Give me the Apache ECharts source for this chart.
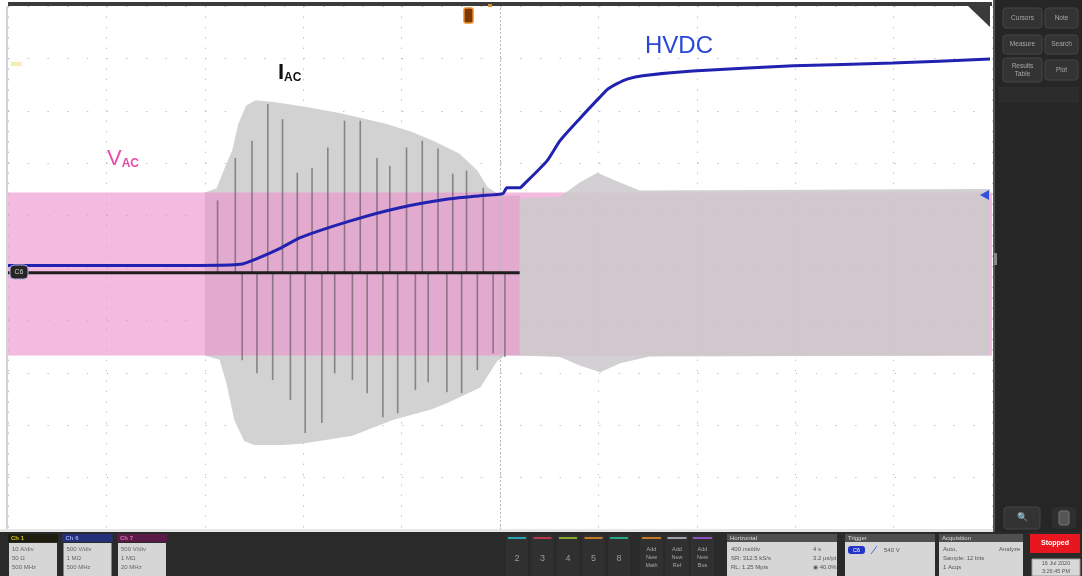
<!DOCTYPE html>
<html>
<head>
<meta charset="utf-8">
<script src="https://cdn.jsdelivr.net/npm/echarts@6/dist/echarts.min.js"></script>
<style>
html,body{margin:0;padding:0;background:#fff;}
#chart{width:1082px;height:576px;}
</style>
</head>
<body>
<div id="chart"></div>
<script>
// ---- Data (x in horizontal divisions 0..10, y in vertical divisions -5..5) ----
// V_AC envelope (dense sine drawn as band)
const vacUpper = [[0, 1.44], [10, 1.44]];
const vacLower = [[0, -1.67], [10, -1.67]];

// I_AC envelope, inrush section (before trigger)
const iacUpper1 = [[2.0, 1.44], [2.12, 1.52], [2.2, 1.9], [2.28, 2.25], [2.34, 2.75], [2.42, 3.1], [2.52, 3.2], [2.7, 3.17], [3.0, 3.08], [3.37, 2.96], [3.85, 2.75], [4.1, 2.6], [4.32, 2.43], [4.59, 2.18], [4.77, 1.86], [4.87, 1.55], [4.97, 1.42], [5.05, 1.38], [5.2, 1.38]];
const iacLower1 = [[2.0, -1.67], [2.15, -1.75], [2.22, -2.2], [2.3, -2.9], [2.4, -3.3], [2.5, -3.38], [2.8, -3.38], [3.0, -3.35], [3.5, -3.2], [3.91, -2.9], [4.3, -2.7], [4.46, -2.58], [4.8, -2.28], [4.97, -1.78], [5.05, -1.67], [5.2, -1.67]];

// I_AC envelope, PFC running section (after trigger)
const iacUpper2 = [[5.2, 1.32], [5.61, 1.36], [5.81, 1.63], [5.99, 1.82], [6.17, 1.67], [6.42, 1.48], [9.98, 1.51]];
const iacLower2 = [[5.2, -1.67], [5.61, -1.7], [5.81, -1.86], [6.02, -1.99], [6.22, -1.82], [6.52, -1.69], [9.98, -1.67]];

// I_AC dark current peaks: [x, tip]
const iacPeaksUp = [[2.13, 1.29], [2.31, 2.10], [2.48, 2.43], [2.64, 3.13], [2.79, 2.84], [2.94, 1.82], [3.09, 1.91], [3.25, 2.30], [3.42, 2.81], [3.58, 2.81], [3.75, 2.10], [3.88, 1.95], [4.05, 2.30], [4.21, 2.43], [4.37, 2.28], [4.52, 1.80], [4.66, 1.86], [4.83, 1.53]];
const iacPeaksDown = [[2.38, -1.76], [2.53, -2.01], [2.69, -2.14], [2.87, -2.52], [3.02, -3.15], [3.19, -2.96], [3.32, -2.01], [3.50, -2.14], [3.65, -2.39], [3.81, -2.85], [3.96, -2.77], [4.14, -2.33], [4.27, -2.18], [4.46, -2.37], [4.61, -2.39], [4.77, -1.95], [4.93, -1.63], [5.05, -1.70]];

// HVDC bus voltage
const hvdc = [[0, 0.05], [1.95, 0.05], [2.36, 0.07], [2.53, 0.18], [2.76, 0.37], [2.97, 0.58], [3.48, 0.90], [3.98, 1.15], [4.49, 1.32], [4.80, 1.38], [5.03, 1.42], [5.07, 1.53], [5.20, 1.53], [5.25, 1.61], [5.48, 2.05], [5.61, 2.43], [5.81, 2.85], [6.02, 3.27], [6.10, 3.42], [6.19, 3.52], [6.30, 3.61], [6.45, 3.67], [6.96, 3.76], [7.98, 3.86], [8.99, 3.91], [9.98, 3.99]];

// Black reference trace
const blackTrace = [[0, -0.09], [5.2, -0.09]];

const channelBoxes = [
  {name: 'Ch 1', lines: ['10 A/div', '50 Ω', '500 MHz']},
  {name: 'Ch 6', lines: ['500 V/div', '1 MΩ', '500 MHz']},
  {name: 'Ch 7', lines: ['500 V/div', '1 MΩ', '20 MHz']}
];
const chanButtons = ['2', '3', '4', '5', '8'];
const addButtons = ['Math', 'Ref', 'Bus'];

// ---- Rendering ----
const chart = echarts.init(document.getElementById('chart'), null, {renderer: 'canvas'});

function bandSeries(upper, lower, fill, z) {
  return {
    type: 'custom', z: z, silent: true, clip: true,
    data: [[upper[0][0], upper[0][1]]],
    renderItem: function (params, api) {
      const pts = upper.map(p => api.coord(p)).concat(lower.slice().reverse().map(p => api.coord(p)));
      return {type: 'polygon', shape: {points: pts}, style: {fill: fill}};
    }
  };
}
function peakSeries(peaks, base, color, z) {
  return {
    type: 'custom', z: z, silent: true, clip: true,
    data: peaks.map(p => [p[0], base, p[1]]),
    encode: {x: 0, y: [1, 2]},
    renderItem: function (params, api) {
      const a = api.coord([api.value(0), api.value(1)]);
      const b = api.coord([api.value(0), api.value(2)]);
      return {type: 'line', shape: {x1: a[0], y1: a[1], x2: b[0], y2: b[1]}, style: {stroke: color, lineWidth: 1.6}};
    }
  };
}

const font = 'Liberation Sans, Arial, sans-serif';
const graphics = [];
// plot frame bits
graphics.push({type: 'rect', shape: {x: 8, y: 2, width: 984, height: 4}, style: {fill: '#3c3c3c'}, z: 10});
graphics.push({type: 'rect', shape: {x: 6, y: 6, width: 2, height: 524}, style: {fill: '#d4d4d4'}, z: 10});
graphics.push({type: 'rect', shape: {x: 0, y: 529, width: 993, height: 3}, style: {fill: '#e6e6e6'}, z: 10});
// top right corner triangle
graphics.push({type: 'polygon', shape: {points: [[968, 6], [990, 6], [990, 27]]}, style: {fill: '#3a3a3a'}, z: 10});
// trigger position marker
graphics.push({type: 'rect', shape: {x: 464, y: 8, width: 9, height: 15, r: 2}, style: {fill: '#7a3a08', stroke: '#f08a20', lineWidth: 1.5}, z: 10});
graphics.push({type: 'rect', shape: {x: 488, y: 4, width: 4, height: 3}, style: {fill: '#e09030'}, z: 10});
// channel markers
graphics.push({type: 'rect', shape: {x: 11, y: 62, width: 11, height: 4}, style: {fill: '#f6eeb0'}, z: 10});
graphics.push({type: 'rect', shape: {x: 10, y: 265, width: 18, height: 14, r: 4}, style: {fill: '#262626', stroke: '#b0b0e0', lineWidth: 1}, z: 12});
graphics.push({type: 'text', style: {x: 19, y: 272, text: 'C6', fill: '#ccc', font: '7px ' + font, align: 'center', verticalAlign: 'middle'}, z: 13});
graphics.push({type: 'polygon', shape: {points: [[980, 195], [989, 190], [989, 200]]}, style: {fill: '#3050e0'}, z: 10});
// labels
graphics.push({type: 'text', style: {x: 645, y: 58, text: 'HVDC', fill: '#2a46d6', font: '24px ' + font, verticalAlign: 'bottom'}, z: 20});
graphics.push({type: 'text', style: {x: 278, y: 84, text: '{a|I}{b|AC}', fill: '#111', verticalAlign: 'bottom',
  rich: {a: {font: 'bold 22px ' + font, fill: '#111', verticalAlign: 'bottom'}, b: {font: 'bold 12px ' + font, fill: '#111', verticalAlign: 'bottom', padding: [0, 0, 0, 0]}}}, z: 20});
graphics.push({type: 'text', style: {x: 107, y: 170, text: '{a|V}{b|AC}', fill: '#e64ca8', verticalAlign: 'bottom',
  rich: {a: {font: '22px ' + font, fill: '#e64ca8', verticalAlign: 'bottom'}, b: {font: 'bold 12px ' + font, fill: '#e64ca8', verticalAlign: 'bottom'}}}, z: 20});

// right side panel
graphics.push({type: 'rect', shape: {x: 993, y: 0, width: 89, height: 576}, style: {fill: '#262626'}, z: 10});
graphics.push({type: 'rect', shape: {x: 993, y: 0, width: 2, height: 532}, style: {fill: '#555'}, z: 11});
graphics.push({type: 'rect', shape: {x: 994, y: 253, width: 3, height: 12}, style: {fill: '#888'}, z: 11});
const sideBtns = [
  {x: 1003, y: 8, w: 39, h: 20, t: 'Cursors'}, {x: 1045, y: 8, w: 33, h: 20, t: 'Note'},
  {x: 1003, y: 35, w: 39, h: 19, t: 'Measure'}, {x: 1045, y: 35, w: 33, h: 19, t: 'Search'},
  {x: 1003, y: 58, w: 39, h: 24, t: 'Results\nTable'}, {x: 1045, y: 60, w: 33, h: 20, t: 'Plot'}
];
sideBtns.forEach(b => {
  graphics.push({type: 'rect', shape: {x: b.x, y: b.y, width: b.w, height: b.h, r: 3}, style: {fill: '#333', stroke: '#444'}, z: 11});
  graphics.push({type: 'text', style: {x: b.x + b.w / 2, y: b.y + b.h / 2, text: b.t, fill: '#a8a8a8', font: '6.5px ' + font, align: 'center', verticalAlign: 'middle', lineHeight: 8}, z: 12});
});
graphics.push({type: 'rect', shape: {x: 999, y: 87, width: 80, height: 16}, style: {fill: '#2c2c2c'}, z: 11});
graphics.push({type: 'rect', shape: {x: 1004, y: 507, width: 36, height: 22, r: 3}, style: {fill: '#333', stroke: '#444'}, z: 11});
graphics.push({type: 'text', style: {x: 1022, y: 518, text: '🔍', fill: '#999', font: '9px ' + font, align: 'center', verticalAlign: 'middle'}, z: 12});
graphics.push({type: 'rect', shape: {x: 1052, y: 507, width: 24, height: 22, r: 3}, style: {fill: '#2e2e2e'}, z: 11});
graphics.push({type: 'rect', shape: {x: 1059, y: 511, width: 10, height: 14, r: 2}, style: {fill: '#555', stroke: '#777'}, z: 12});

// bottom bar
graphics.push({type: 'rect', shape: {x: 0, y: 532, width: 1082, height: 44}, style: {fill: '#2a2a2a'}, z: 10});
const chColors = [{bg: '#1e1e10', fg: '#d8c030'}, {bg: '#26307a', fg: '#9aa8f0'}, {bg: '#5a1a48', fg: '#e070b8'}];
channelBoxes.forEach((c, i) => {
  const x = 8 + i * 54.5;
  graphics.push({type: 'rect', shape: {x: x, y: 534, width: 50, height: 8}, style: {fill: chColors[i].bg}, z: 11});
  graphics.push({type: 'text', style: {x: x + 3, y: 538, text: c.name, fill: chColors[i].fg, font: 'bold 6px ' + font, verticalAlign: 'middle'}, z: 12});
  graphics.push({type: 'rect', shape: {x: x + 1, y: 543, width: 48, height: 33}, style: {fill: '#d6d6d6'}, z: 11});
  c.lines.forEach((l, j) => {
    graphics.push({type: 'text', style: {x: x + 4, y: 549 + j * 9, text: l, fill: '#666', font: '6px ' + font, verticalAlign: 'middle'}, z: 12});
  });
});
const btnColors = ['#2aa0b0', '#b83a4a', '#84a832', '#c07a28', '#24a884'];
chanButtons.forEach((t, i) => {
  const x = 506 + i * 25.5;
  graphics.push({type: 'rect', shape: {x: x, y: 535, width: 22, height: 41}, style: {fill: '#303030'}, z: 11});
  graphics.push({type: 'rect', shape: {x: x + 2, y: 537, width: 18, height: 2}, style: {fill: btnColors[i]}, z: 12});
  graphics.push({type: 'text', style: {x: x + 11, y: 559, text: t, fill: '#9a9a9a', font: '9px ' + font, align: 'center', verticalAlign: 'middle'}, z: 12});
});
const addColors = ['#c07a28', '#a0a0a8', '#9050c0'];
addButtons.forEach((t, i) => {
  const x = 640 + i * 25.5;
  graphics.push({type: 'rect', shape: {x: x, y: 535, width: 23, height: 41}, style: {fill: '#303030'}, z: 11});
  graphics.push({type: 'rect', shape: {x: x + 2, y: 537, width: 19, height: 2}, style: {fill: addColors[i]}, z: 12});
  ['Add', 'New', t].forEach((w, j) => {
    graphics.push({type: 'text', style: {x: x + 11.5, y: 549 + j * 8, text: w, fill: '#a8a8a8', font: '5.5px ' + font, align: 'center', verticalAlign: 'middle'}, z: 12});
  });
});
function infoBox(x, w, title, rows) {
  graphics.push({type: 'rect', shape: {x: x, y: 534, width: w, height: 8}, style: {fill: '#505050'}, z: 11});
  graphics.push({type: 'text', style: {x: x + 3, y: 538, text: title, fill: '#ddd', font: '6px ' + font, verticalAlign: 'middle'}, z: 12});
  graphics.push({type: 'rect', shape: {x: x, y: 542, width: w, height: 34}, style: {fill: '#d6d6d6'}, z: 11});
  rows.forEach((r, j) => {
    graphics.push({type: 'text', style: {x: x + 4, y: 549 + j * 9, text: r[0], fill: '#555', font: '6px ' + font, verticalAlign: 'middle'}, z: 12});
    if (r[1]) graphics.push({type: 'text', style: {x: x + w - 24, y: 549 + j * 9, text: r[1], fill: '#555', font: '6px ' + font, verticalAlign: 'middle'}, z: 12});
  });
}
infoBox(727, 110, 'Horizontal', [['400 ms/div', '4 s'], ['SR: 312.5 kS/s', '3.2 µs/pt'], ['RL: 1.25 Mpts', '◉ 40.0%']]);
infoBox(845, 90, 'Trigger', []);
graphics.push({type: 'rect', shape: {x: 848, y: 546, width: 17, height: 8, r: 3}, style: {fill: '#2434c8'}, z: 12});
graphics.push({type: 'text', style: {x: 856.5, y: 550, text: 'C6', fill: '#fff', font: '5.5px ' + font, align: 'center', verticalAlign: 'middle'}, z: 13});
graphics.push({type: 'line', shape: {x1: 871, y1: 554, x2: 877, y2: 546}, style: {stroke: '#5a6ad0', lineWidth: 1}, z: 12});
graphics.push({type: 'text', style: {x: 884, y: 550, text: '540 V', fill: '#555', font: '6px ' + font, verticalAlign: 'middle'}, z: 12});
infoBox(939, 84, 'Acquisition', [['Auto,', 'Analyze'], ['Sample: 12 bits', ''], ['1 Acqs', '']]);
graphics.push({type: 'rect', shape: {x: 1030, y: 534, width: 50, height: 19}, style: {fill: '#e8161e'}, z: 11});
graphics.push({type: 'text', style: {x: 1055, y: 543.5, text: 'Stopped', fill: '#fff', font: 'bold 7px ' + font, align: 'center', verticalAlign: 'middle'}, z: 12});
graphics.push({type: 'rect', shape: {x: 1032, y: 559, width: 48, height: 17}, style: {fill: '#d8d8d8', stroke: '#999'}, z: 11});
graphics.push({type: 'text', style: {x: 1056, y: 563.5, text: '16 Jul 2020', fill: '#555', font: '5.5px ' + font, align: 'center', verticalAlign: 'middle'}, z: 12});
graphics.push({type: 'text', style: {x: 1056, y: 571, text: '3:26:45 PM', fill: '#555', font: '5.5px ' + font, align: 'center', verticalAlign: 'middle'}, z: 12});

const option = {
  animation: false,
  backgroundColor: '#ffffff',
  grid: {left: 8, right: 90, top: 6, bottom: 46, containLabel: false},
  xAxis: {
    type: 'value', min: 0, max: 10, interval: 1,
    axisLine: {show: false}, axisTick: {show: false}, axisLabel: {show: false},
    splitLine: {show: true, lineStyle: {color: '#c4c4c4', width: 1, type: [1.5, 8.9]}}
  },
  yAxis: {
    type: 'value', min: -5, max: 5, interval: 1,
    axisLine: {show: false}, axisTick: {show: false}, axisLabel: {show: false},
    splitLine: {show: true, lineStyle: {color: '#c4c4c4', width: 1, type: [1.5, 18.2]}}
  },
  graphic: {elements: graphics},
  series: [
    bandSeries(iacUpper1, iacLower1, '#d2d2d2', 1),
    bandSeries(vacUpper, vacLower, 'rgba(234,146,204,0.62)', 2),
    bandSeries(iacUpper2, iacLower2, 'rgba(204,202,204,0.88)', 3),
    peakSeries(iacPeaksUp, -0.09, 'rgba(85,80,85,0.6)', 4),
    peakSeries(iacPeaksDown, -0.09, 'rgba(85,80,85,0.6)', 4),
    {
      type: 'line', z: 5, data: blackTrace, symbol: 'none', silent: true,
      lineStyle: {color: '#1e1e1e', width: 3}
    },
    {
      type: 'line', z: 6, data: hvdc, symbol: 'none', silent: true, smooth: 0.2,
      lineStyle: {color: '#2222b0', width: 3},
      markLine: {
        silent: true, symbol: 'none', label: {show: false},
        lineStyle: {color: '#b8b8b8', type: [2, 2], width: 1},
        data: [{xAxis: 5}]
      }
    }
  ]
};
chart.setOption(option);
</script>
</body>
</html>
